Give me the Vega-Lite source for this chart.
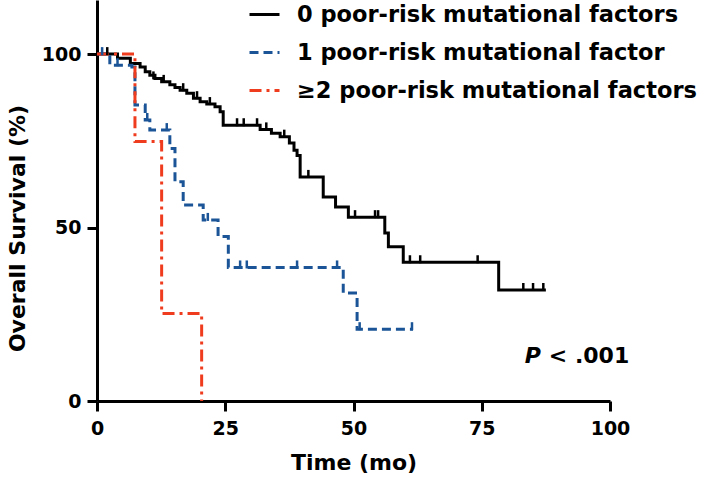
{
  "$schema": "https://vega.github.io/schema/vega-lite/v6.json",
  "width": 513,
  "height": 401,
  "autosize": {"type": "none"},
  "padding": {"left": 97, "top": 0, "right": 99, "bottom": 77},
  "config": {
    "view": {"stroke": null},
    "font": "DejaVu Sans",
    "axis": {
      "grid": false,
      "domainColor": "black",
      "domainWidth": 3,
      "tickColor": "black",
      "tickWidth": 3,
      "tickSize": 10,
      "labelFont": "DejaVu Sans",
      "labelFontWeight": "bold",
      "labelFontSize": 19,
      "labelColor": "black",
      "labelFlush": false,
      "titleFont": "DejaVu Sans",
      "titleFontWeight": "bold",
      "titleFontSize": 22,
      "titleColor": "black"
    },
    "legend": {
      "symbolType": "stroke",
      "symbolSize": 900,
      "symbolStrokeWidth": 3,
      "labelFont": "DejaVu Sans",
      "labelFontWeight": "bold",
      "labelFontSize": 22.5,
      "labelColor": "black",
      "labelOffset": 16,
      "labelLimit": 600,
      "rowPadding": 10,
      "padding": 0
    }
  },
  "datasets": {
    "curves": [
      {"g": "0 poor-risk mutational factors", "t": 0, "s": 100},
      {"g": "0 poor-risk mutational factors", "t": 4, "s": 98.8},
      {"g": "0 poor-risk mutational factors", "t": 6.5, "s": 97.3},
      {"g": "0 poor-risk mutational factors", "t": 8.4, "s": 96.3},
      {"g": "0 poor-risk mutational factors", "t": 9.4, "s": 94.9},
      {"g": "0 poor-risk mutational factors", "t": 10.3, "s": 93.9},
      {"g": "0 poor-risk mutational factors", "t": 11.3, "s": 93},
      {"g": "0 poor-risk mutational factors", "t": 12.6, "s": 92},
      {"g": "0 poor-risk mutational factors", "t": 14.2, "s": 91.2},
      {"g": "0 poor-risk mutational factors", "t": 15.2, "s": 90.4},
      {"g": "0 poor-risk mutational factors", "t": 16.2, "s": 89.6},
      {"g": "0 poor-risk mutational factors", "t": 17.5, "s": 88.7},
      {"g": "0 poor-risk mutational factors", "t": 18.8, "s": 87.3},
      {"g": "0 poor-risk mutational factors", "t": 20.1, "s": 86.3},
      {"g": "0 poor-risk mutational factors", "t": 21.4, "s": 85.6},
      {"g": "0 poor-risk mutational factors", "t": 23, "s": 84.8},
      {"g": "0 poor-risk mutational factors", "t": 24, "s": 83.4},
      {"g": "0 poor-risk mutational factors", "t": 24.6, "s": 79.5},
      {"g": "0 poor-risk mutational factors", "t": 31.8, "s": 78.3},
      {"g": "0 poor-risk mutational factors", "t": 34, "s": 77.2},
      {"g": "0 poor-risk mutational factors", "t": 35.7, "s": 76.2},
      {"g": "0 poor-risk mutational factors", "t": 37.5, "s": 74.4},
      {"g": "0 poor-risk mutational factors", "t": 38.4, "s": 72.3},
      {"g": "0 poor-risk mutational factors", "t": 39, "s": 70.8},
      {"g": "0 poor-risk mutational factors", "t": 39.6, "s": 64.6},
      {"g": "0 poor-risk mutational factors", "t": 44.1, "s": 58.8},
      {"g": "0 poor-risk mutational factors", "t": 46.5, "s": 55.9},
      {"g": "0 poor-risk mutational factors", "t": 49, "s": 53},
      {"g": "0 poor-risk mutational factors", "t": 56.1, "s": 48.4},
      {"g": "0 poor-risk mutational factors", "t": 56.8, "s": 44.5},
      {"g": "0 poor-risk mutational factors", "t": 59.7, "s": 40},
      {"g": "0 poor-risk mutational factors", "t": 78.3, "s": 32},
      {"g": "0 poor-risk mutational factors", "t": 87.5, "s": 32},
      {"g": "1 poor-risk mutational factor", "t": 0, "s": 100},
      {"g": "1 poor-risk mutational factor", "t": 2.5, "s": 96.8},
      {"g": "1 poor-risk mutational factor", "t": 6.8, "s": 96.3},
      {"g": "1 poor-risk mutational factor", "t": 7.4, "s": 85.3},
      {"g": "1 poor-risk mutational factor", "t": 9.4, "s": 81},
      {"g": "1 poor-risk mutational factor", "t": 10.3, "s": 78.1},
      {"g": "1 poor-risk mutational factor", "t": 14.2, "s": 72.8},
      {"g": "1 poor-risk mutational factor", "t": 15.2, "s": 63.2},
      {"g": "1 poor-risk mutational factor", "t": 16.8, "s": 56.5},
      {"g": "1 poor-risk mutational factor", "t": 20.7, "s": 52.2},
      {"g": "1 poor-risk mutational factor", "t": 23.6, "s": 47.4},
      {"g": "1 poor-risk mutational factor", "t": 25.6, "s": 38.5},
      {"g": "1 poor-risk mutational factor", "t": 48, "s": 31.1},
      {"g": "1 poor-risk mutational factor", "t": 50.7, "s": 20.7},
      {"g": "1 poor-risk mutational factor", "t": 61.6, "s": 20.7},
      {"g": "≥2 poor-risk mutational factors", "t": 0, "s": 100},
      {"g": "≥2 poor-risk mutational factors", "t": 7.4, "s": 74.8},
      {"g": "≥2 poor-risk mutational factors", "t": 12.6, "s": 25.2},
      {"g": "≥2 poor-risk mutational factors", "t": 20.4, "s": 0}
    ],
    "censors": [
      {"g": "0 poor-risk mutational factors", "t": 2, "s": 100},
      {"g": "0 poor-risk mutational factors", "t": 11, "s": 93},
      {"g": "0 poor-risk mutational factors", "t": 13, "s": 92},
      {"g": "0 poor-risk mutational factors", "t": 16.8, "s": 89.6},
      {"g": "0 poor-risk mutational factors", "t": 19.5, "s": 87.3},
      {"g": "0 poor-risk mutational factors", "t": 22, "s": 85.6},
      {"g": "0 poor-risk mutational factors", "t": 27.3, "s": 79.5},
      {"g": "0 poor-risk mutational factors", "t": 28.6, "s": 79.5},
      {"g": "0 poor-risk mutational factors", "t": 31.2, "s": 79.5},
      {"g": "0 poor-risk mutational factors", "t": 33, "s": 78.3},
      {"g": "0 poor-risk mutational factors", "t": 36.5, "s": 76.2},
      {"g": "0 poor-risk mutational factors", "t": 41.2, "s": 64.6},
      {"g": "0 poor-risk mutational factors", "t": 50.3, "s": 53},
      {"g": "0 poor-risk mutational factors", "t": 54.2, "s": 53},
      {"g": "0 poor-risk mutational factors", "t": 54.8, "s": 53},
      {"g": "0 poor-risk mutational factors", "t": 61, "s": 40},
      {"g": "0 poor-risk mutational factors", "t": 63, "s": 40},
      {"g": "0 poor-risk mutational factors", "t": 74.2, "s": 40},
      {"g": "0 poor-risk mutational factors", "t": 83.1, "s": 32},
      {"g": "0 poor-risk mutational factors", "t": 85, "s": 32},
      {"g": "0 poor-risk mutational factors", "t": 87, "s": 32},
      {"g": "1 poor-risk mutational factor", "t": 1, "s": 100},
      {"g": "1 poor-risk mutational factor", "t": 4, "s": 96.8},
      {"g": "1 poor-risk mutational factor", "t": 9.8, "s": 81},
      {"g": "1 poor-risk mutational factor", "t": 13.6, "s": 78.1},
      {"g": "1 poor-risk mutational factor", "t": 21.6, "s": 52.2},
      {"g": "1 poor-risk mutational factor", "t": 27.9, "s": 38.5},
      {"g": "1 poor-risk mutational factor", "t": 29.2, "s": 38.5},
      {"g": "1 poor-risk mutational factor", "t": 39, "s": 38.5},
      {"g": "1 poor-risk mutational factor", "t": 46.8, "s": 38.5},
      {"g": "1 poor-risk mutational factor", "t": 51.2, "s": 20.7},
      {"g": "1 poor-risk mutational factor", "t": 61.4, "s": 20.7}
    ]
  },
  "layer": [
    {
      "data": {"name": "curves"},
      "mark": {"type": "line", "interpolate": "step-after", "strokeWidth": 3},
      "encoding": {
        "x": {
          "field": "t",
          "type": "quantitative",
          "title": "Time (mo)",
          "scale": {"domain": [0, 100], "nice": false},
          "axis": {"values": [0, 25, 50, 75, 100], "labelPadding": 8, "titlePadding": 14}
        },
        "y": {
          "field": "s",
          "type": "quantitative",
          "title": "Overall Survival (%)",
          "scale": {"domain": [0, 115.6], "nice": false},
          "axis": {"values": [0, 50, 100], "labelPadding": 6, "titlePadding": 12, "titleY": 228}
        },
        "color": {
          "field": "g",
          "type": "nominal",
          "scale": {
            "domain": ["0 poor-risk mutational factors", "1 poor-risk mutational factor", "≥2 poor-risk mutational factors"],
            "range": ["#000000", "#1b5597", "#f03c1e"]
          },
          "legend": {"title": null, "orient": "none", "legendX": 151, "legendY": -2}
        },
        "strokeDash": {
          "field": "g",
          "type": "nominal",
          "scale": {
            "domain": ["0 poor-risk mutational factors", "1 poor-risk mutational factor", "≥2 poor-risk mutational factors"],
            "range": [[1, 0], [9, 5], [12, 5, 3, 5]]
          },
          "legend": {"title": null, "orient": "none", "legendX": 151, "legendY": -2}
        }
      }
    },
    {
      "data": {"name": "censors"},
      "mark": {"type": "tick", "orient": "vertical", "size": 8, "thickness": 2.5, "yOffset": -3, "opacity": 1},
      "encoding": {
        "x": {"field": "t", "type": "quantitative"},
        "y": {"field": "s", "type": "quantitative"},
        "color": {"field": "g", "type": "nominal", "legend": null}
      }
    },
    {
      "data": {"values": [{}]},
      "mark": {"type": "text", "align": "left", "baseline": "alphabetic", "fontSize": 22, "fontWeight": "bold", "fontStyle": "italic", "font": "DejaVu Sans", "color": "black"},
      "encoding": {
        "x": {"datum": 83.4},
        "y": {"datum": 11},
        "text": {"value": "P"}
      }
    },
    {
      "data": {"values": [{}]},
      "mark": {"type": "text", "align": "left", "baseline": "alphabetic", "fontSize": 22, "fontWeight": "bold", "font": "DejaVu Sans", "color": "black", "dx": 24},
      "encoding": {
        "x": {"datum": 83.4},
        "y": {"datum": 11},
        "text": {"value": "< .001"}
      }
    }
  ]
}
